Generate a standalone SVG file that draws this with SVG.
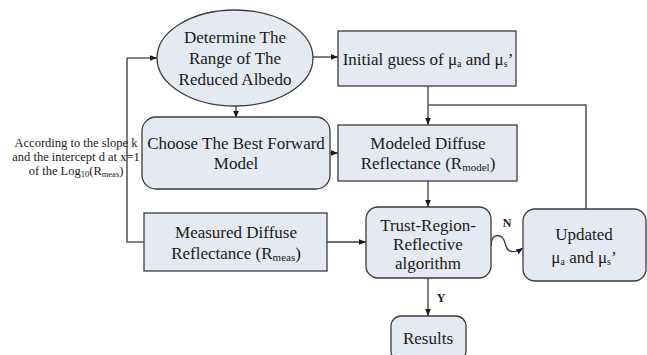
<svg xmlns="http://www.w3.org/2000/svg" width="647" height="355" viewBox="0 0 647 355" font-family="'Liberation Serif', 'Times New Roman', serif">
<style>
.box{fill:#e5eaf2;stroke:#3c3c3c;stroke-width:1.3}
text{font-family:"Liberation Serif","Times New Roman",serif;fill:#1a1a1a;text-anchor:middle}
.t{font-size:17px}
.s{font-size:12.5px}
.b{font-size:12px;font-weight:bold}
.c{fill:none;stroke:#3c3c3c;stroke-width:1.3}
.g{fill:none;stroke:#5a5a5a;stroke-width:1.6}
</style>
<defs>
<marker id="ah" viewBox="0 0 10 10" refX="10" refY="5" markerWidth="7" markerHeight="7" markerUnits="userSpaceOnUse" orient="auto">
<path d="M0,1 L10,5 L0,9 z" fill="#1a1a1a"/>
</marker>
</defs>
<g id="connectors">
<path class="c" d="M313,57 L338,57" marker-end="url(#ah)"/>
<path class="c" d="M236,106 L236,118" marker-end="url(#ah)"/>
<path class="c" d="M330,153 L338,153" marker-end="url(#ah)"/>
<path class="c" d="M428,86 L428,125" marker-end="url(#ah)"/>
<path class="g" d="M428,105 L586,105 L586,209"/>
<path class="c" d="M428,181 L428,207" marker-end="url(#ah)"/>
<path class="c" d="M327,242 L366,242" marker-end="url(#ah)"/>
<path class="g" d="M144,242 L127,242 L127,58"/>
<path class="c" d="M127,58 L157,58" marker-end="url(#ah)"/>
<path class="c" d="M491,246 C491,232 503,233 505,243 C507,253 514,254 523,248" marker-end="url(#ah)"/>
<path class="c" d="M428,278 L428,316" marker-end="url(#ah)"/>
<text class="b" x="507" y="227">N</text>
<text class="b" x="441" y="302">Y</text>
<text class="s" x="76" y="147">According to the slope k</text>
<text class="s" x="76" y="161">and the intercept d at x=1</text>
<text class="s" x="76" y="175">of the Log<tspan font-size="8.5" dy="2">10</tspan><tspan dy="-2">(R</tspan><tspan font-size="8.5" dy="2">meas</tspan><tspan dy="-2">)</tspan></text>
</g>
<g id="determine">
<ellipse class="box" cx="235" cy="58" rx="78" ry="48"/>
<text class="t" x="235" y="43">Determine The</text>
<text class="t" x="235" y="64">Range of The</text>
<text class="t" x="235" y="85">Reduced Albedo</text>
</g>
<g id="initial">
<rect class="box" x="338" y="31" width="178" height="55"/>
<text class="t" x="428" y="65">Initial guess of μ<tspan font-size="10" dy="2">a</tspan><tspan dy="-2"> and μ</tspan><tspan font-size="10" dy="2">s</tspan><tspan dy="-2">’</tspan></text>
</g>
<g id="choose">
<rect class="box" x="142" y="117" width="188" height="72" rx="14"/>
<text class="t" x="236" y="149">Choose The Best Forward</text>
<text class="t" x="236" y="169">Model</text>
</g>
<g id="modeled">
<rect class="box" x="338" y="125" width="179" height="56"/>
<text class="t" x="428" y="149">Modeled Diffuse</text>
<text class="t" x="428" y="169">Reflectance (R<tspan font-size="11" dy="2">model</tspan><tspan dy="-2">)</tspan></text>
</g>
<g id="measured">
<rect class="box" x="144" y="213" width="183" height="58"/>
<text class="t" x="236" y="238">Measured Diffuse</text>
<text class="t" x="236" y="259">Reflectance (R<tspan font-size="11" dy="2">meas</tspan><tspan dy="-2">)</tspan></text>
</g>
<g id="trust">
<rect class="box" x="366" y="207" width="125" height="71" rx="12"/>
<text class="t" x="428" y="231">Trust-Region-</text>
<text class="t" x="428" y="250">Reflective</text>
<text class="t" x="428" y="269">algorithm</text>
</g>
<g id="updated">
<rect class="box" x="523" y="209" width="123" height="72" rx="12"/>
<text class="t" x="584" y="240">Updated</text>
<text class="t" x="584" y="263">μ<tspan font-size="10" dy="2">a</tspan><tspan dy="-2"> and μ</tspan><tspan font-size="10" dy="2">s</tspan><tspan dy="-2">’</tspan></text>
</g>
<g id="results">
<rect class="box" x="391" y="316" width="75" height="45" rx="10"/>
<text class="t" x="428" y="344">Results</text>
</g>
</svg>
